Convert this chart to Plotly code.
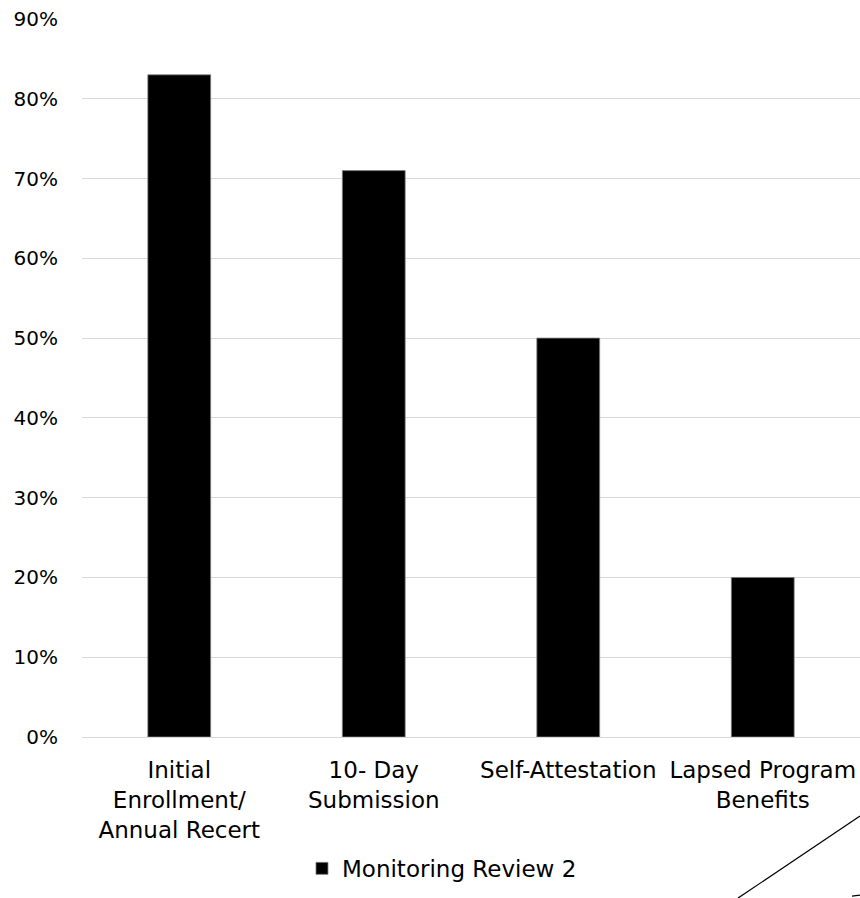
import plotly.graph_objects as go

categories = ["Initial<br>Enrollment/<br>Annual Recert", "10- Day<br>Submission",
              "Self-Attestation", "Lapsed Program<br>Benefits"]
values = [0.83, 0.71, 0.50, 0.20]
series_name = "Monitoring Review 2"
y_tickvals = [0, 0.1, 0.2, 0.3, 0.4, 0.5, 0.6, 0.7, 0.8, 0.9]
y_ticktext = ["0%", "10%", "20%", "30%", "40%", "50%", "60%", "70%", "80%", "90%"]

FONT = "DejaVu Sans"

fig = go.Figure()
fig.add_trace(go.Bar(
    x=categories, y=values, name=series_name,
    marker=dict(color="#000000", line=dict(color="#7f7f7f", width=0.8)),
    showlegend=True,
))

fig.update_layout(
    width=860, height=898,
    margin=dict(l=82, r=0, t=19, b=161),
    paper_bgcolor="white", plot_bgcolor="white",
    font=dict(family=FONT, size=23, color="#000000"),
    bargap=0.677,
    showlegend=True,
    legend=dict(orientation="h", x=0.4627, xanchor="center", y=-0.183, yanchor="middle",
                font=dict(family=FONT, size=23, color="#000000"),
                itemwidth=30),
    xaxis=dict(showgrid=False, showline=False, ticks="", ticklabelstandoff=17,
               tickfont=dict(family=FONT, size=23, color="#000000")),
    yaxis=dict(range=[0, 0.9], tickvals=y_tickvals, ticktext=y_ticktext,
               showgrid=True, gridcolor="#d9d9d9", gridwidth=1.3,
               zeroline=True, zerolinecolor="#d9d9d9", zerolinewidth=1.3,
               showline=False, ticks="", ticklabelstandoff=23,
               tickfont=dict(family=FONT, size=20, color="#000000")),
    shapes=[
        dict(type="line", xref="paper", yref="paper",
             x0=(738 - 82) / 778, y0=(737 - 898) / 717.5,
             x1=1.0, y1=(737 - 816) / 717.5,
             line=dict(color="#000000", width=1.2)),
        dict(type="line", xref="paper", yref="paper",
             x0=(852 - 82) / 778, y0=(737 - 896) / 717.5,
             x1=1.0, y1=(737 - 895) / 717.5,
             line=dict(color="#000000", width=1.2)),
    ],
)

fig.write_html("out.html")
